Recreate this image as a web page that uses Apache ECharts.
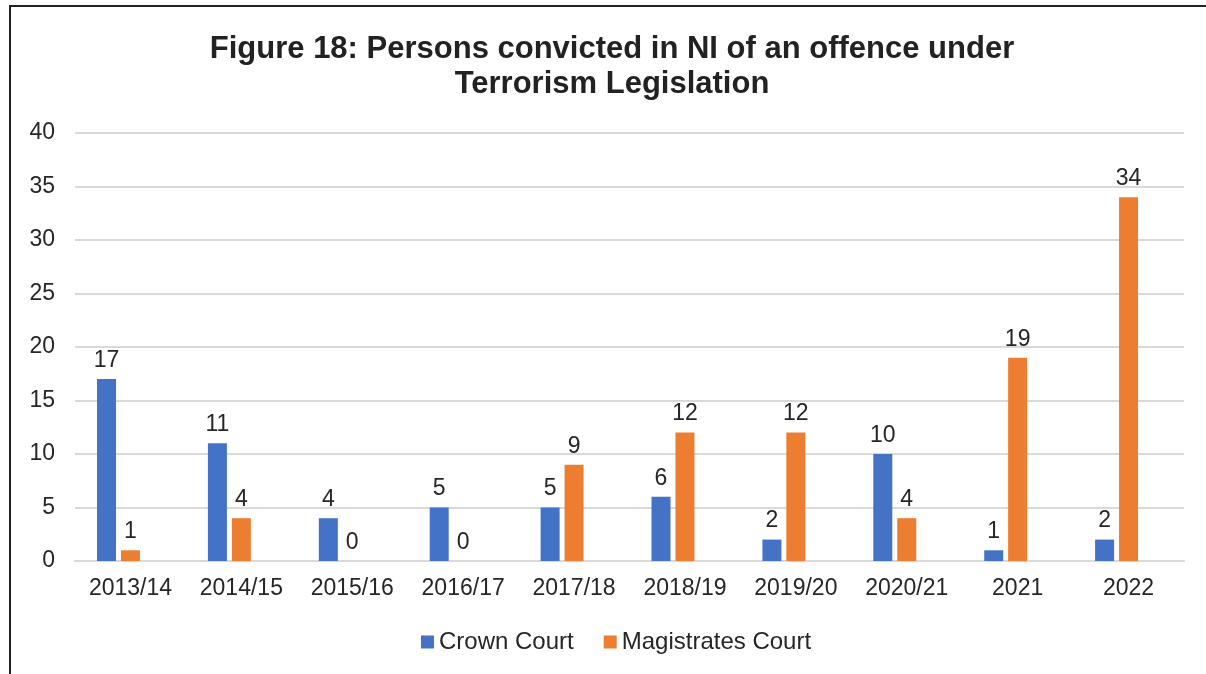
<!DOCTYPE html>
<html lang="en">
<head>
  <meta charset="UTF-8">
  <title>Figure 18</title>
  <style>
    body {
      margin: 0;
      padding: 0;
      background-color: #fff;
    }
    #frame {
      position: absolute;
      left: 9px;
      top: 5px;
      width: 1197px;
      height: 669px;
      border-left: 2px solid #222;
      border-top: 2px solid #222;
    }
    #chart-container {
      position: absolute;
      left: 0;
      top: 0;
      width: 1206px;
      height: 674px;
    }
  </style>
</head>
<body>
  <div id="frame"></div>
  <div id="chart-container"></div>

  <script src="https://cdn.jsdelivr.net/npm/echarts@6/dist/echarts.min.js"></script>
  <script>
    var years = ['2013/14', '2014/15', '2015/16', '2016/17', '2017/18', '2018/19', '2019/20', '2020/21', '2021', '2022'];
    var crownCourt = [17, 11, 4, 5, 5, 6, 2, 10, 1, 2];
    var magistratesCourt = [1, 4, 0, 0, 9, 12, 12, 4, 19, 34];
    // the source chart keeps an empty third slot per year, so bars sit left of the label
    var emptySlot = [null, null, null, null, null, null, null, null, null, null];
    var yTicks = { min: 0, max: 40, interval: 5 };

    var font = 'Liberation Sans, Arial, sans-serif';
    var textColor = '#262626';

    var chart = echarts.init(document.getElementById('chart-container'));

    var labelStyle = {
      show: true,
      position: 'top',
      distance: 7,
      fontSize: 23,
      fontFamily: font,
      color: textColor
    };

    var option = {
      animation: false,
      title: {
        text: 'Figure 18: Persons convicted in NI of an offence under\nTerrorism Legislation',
        left: 607,
        textAlign: 'center',
        top: 27,
        textStyle: {
          fontSize: 31,
          fontWeight: 'bold',
          fontFamily: font,
          color: '#222',
          lineHeight: 35
        }
      },
      legend: {
        bottom: 15,
        left: 416,
        icon: 'rect',
        itemWidth: 13,
        itemHeight: 13,
        itemGap: 30,
        textStyle: {
          fontSize: 24,
          fontFamily: font,
          color: textColor
        },
        data: ['Crown Court', 'Magistrates Court']
      },
      grid: {
        left: 75,
        right: 22,
        top: 133,
        bottom: 113,
        containLabel: false
      },
      xAxis: {
        type: 'category',
        data: years,
        axisLine: { lineStyle: { color: '#d9d9d9', width: 2 } },
        axisTick: { show: false },
        axisLabel: {
          margin: 16,
          fontSize: 23,
          fontFamily: font,
          color: textColor
        }
      },
      yAxis: {
        type: 'value',
        min: yTicks.min,
        max: yTicks.max,
        interval: yTicks.interval,
        axisLine: { show: false },
        axisTick: { show: false },
        splitLine: { lineStyle: { color: '#d9d9d9', width: 2 } },
        axisLabel: {
          margin: 20,
          fontSize: 23,
          fontFamily: font,
          color: textColor
        }
      },
      series: [
        {
          name: 'Crown Court',
          type: 'bar',
          data: crownCourt,
          barWidth: 19,
          barGap: '26%',
          itemStyle: { color: '#4472C4' },
          label: labelStyle
        },
        {
          name: 'Magistrates Court',
          type: 'bar',
          data: magistratesCourt,
          barWidth: 19,
          barGap: '26%',
          itemStyle: { color: '#ED7D31' },
          label: labelStyle
        },
        {
          name: 'empty',
          type: 'bar',
          data: emptySlot,
          barWidth: 19,
          barGap: '26%',
          itemStyle: { color: 'transparent' },
          label: { show: false }
        }
      ]
    };

    chart.setOption(option);
  </script>
</body>
</html>
